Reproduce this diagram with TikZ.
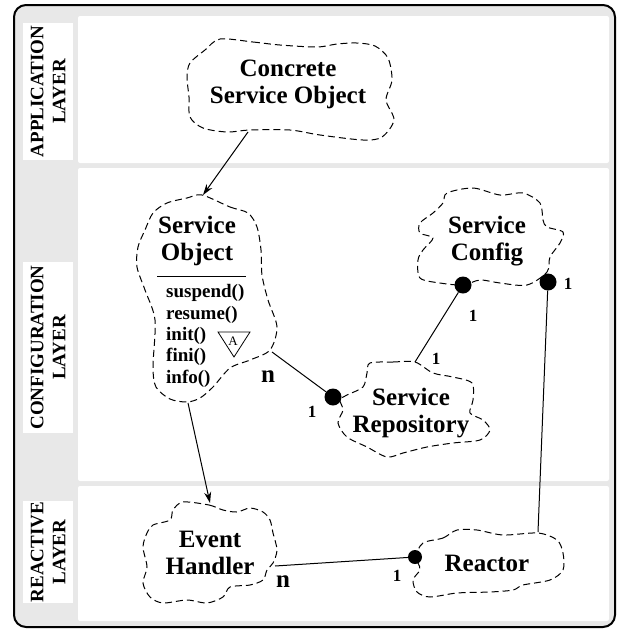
\documentclass[tikz,border=0pt]{standalone}
\usepackage{fontspec}
\setmainfont{Liberation Serif}
\usepackage{tikz}
\usetikzlibrary{positioning}
\usetikzlibrary{arrows.meta}

\begin{document}
\begin{tikzpicture}[x=1pt, y=-1pt,
        >={Stealth[length=11pt, width=7pt]},
        every node/.style = {font=\bfseries\fontsize{25}{27}\selectfont, align=center, inner sep=0pt},
        blob/.style = {draw, line width=1pt, dash pattern=on 7pt off 4pt},
        layer/.style = {fill=white, rotate=90, minimum height=50pt, font=\bfseries\fontsize{19}{22}\selectfont},
        dot/.style = {circle, fill=black, minimum size=17pt},
        mult/.style = {font=\bfseries\fontsize{17}{17}\selectfont}
        ]
        \useasboundingbox (0,0) rectangle (618,630);
        % frame and layers
        \draw[line width=2pt, fill=gray!18, rounded corners=12pt] (14,5) rectangle (615,627);
        \fill[white, rounded corners=2pt] (78,16) rectangle (609,163);
        \fill[white, rounded corners=2pt] (78,168) rectangle (609,481);
        \fill[white, rounded corners=2pt] (78,486) rectangle (609,621);
        \node[layer, minimum width=137pt] (app) at (48,91.5) {APPLICATION\\LAYER};
        \node[layer, minimum width=171pt] (conf) at (48,347.5) {CONFIGURATION\\LAYER};
        \node[layer, minimum width=102pt] (react) at (48,552) {REACTIVE\\LAYER};

        % blobs
        \draw[blob] plot[smooth cycle] coordinates {(220,39) (253,42) (280,45) (317,47) (337,44) (357,43) (375,46) (388,58) (392,80) (386,100) (394,120) (382,137) (363,140) (320,135) (290,130) (250,130) (227,132) (203,128) (190,117) (189,97) (187,77) (190,63) (205,50)};
        \draw[blob] plot[smooth cycle] coordinates {(202,195) (230,207) (248,213) (257,227) (261,250) (262,275) (268,300) (277,327) (270,350) (250,360) (230,368) (213,387) (200,398) (187,402) (170,399) (156,387) (153,367) (155,320) (145,290) (137,267) (138,247) (145,230) (153,213) (167,203) (187,198)};
        \draw[blob] plot[smooth cycle] coordinates {(447,193) (473,188) (500,195) (523,193) (540,203) (543,220) (547,227) (563,232) (560,243) (550,257) (547,272) (527,285) (500,283) (480,280) (463,285) (440,283) (420,278) (418,260) (423,250) (433,238) (420,233) (420,223) (433,213) (443,203)};
        \draw[blob] plot[smooth cycle] coordinates {(370,363) (393,362) (415,362) (433,373) (453,377) (472,383) (473,400) (470,413) (483,420) (490,430) (480,440) (453,443) (427,447) (403,453) (387,457) (367,447) (347,437) (338,423) (343,410) (340,400) (347,395) (363,387) (367,373)};
        \draw[blob] plot[smooth cycle] coordinates {(183,502) (209,505) (223,510) (237,512) (250,508) (263,512) (270,520) (273,533) (277,550) (273,563) (267,570) (263,580) (250,585) (230,587) (223,597) (207,603) (187,600) (163,603) (150,597) (143,583) (147,567) (143,547) (147,533) (153,525) (170,520) (173,510)};
        \draw[blob] plot[smooth cycle] coordinates {(423,543) (443,538) (457,530) (477,530) (503,535) (538,533) (557,540) (563,553) (563,570) (550,580) (523,585) (513,590) (490,592) (457,593) (430,597) (417,592) (413,580) (420,570) (418,563) (415,557)};

        % classes
        \node (cso) at (288,84) {Concrete\\Service Object};
        \node (so) at (197,241) {Service\\Object};
        \draw[line width=1pt] (157,276) -- (246,276);
        \node[anchor=west, align=left, font=\bfseries\fontsize{19}{21.3}\selectfont] (som) at (166,336) {suspend()\\resume()\\init()\\fini()\\info()};
        \draw[line width=0.8pt] (218,332) -- (250,332) -- (234,357) -- cycle;
        \node[font=\normalfont\fontsize{13}{13}\selectfont] (abs) at (233,341) {A};
        \node (sc) at (487,241) {Service\\Config};
        \node (sr) at (411,413) {Service\\Repository};
        \node (eh) at (210,553) {Event\\Handler};
        \node (re) at (487,563) {Reactor};

        % ends on the blob outlines
        \coordinate (cso-s) at (248,132);
        \coordinate (so-n) at (203,195);
        \coordinate (so-s) at (188,403);
        \coordinate (eh-n) at (210,503);
        \coordinate (so-e) at (272,352);
        \coordinate (sr-n) at (415,362);
        \coordinate (re-n) at (538,532);
        \coordinate (eh-e) at (275,566);
        \node[dot] (d1) at (333,397) {};
        \node[dot] (d2) at (463,285) {};
        \node[dot] (d3) at (548,282) {};
        \node[dot, minimum size=14pt] (d4) at (415,557) {};

        \draw[line width=1pt, ->] (cso-s) -- (so-n);
        \draw[line width=1pt, ->] (so-s) -- (eh-n);
        \draw[line width=1pt] (so-e) -- (d1);
        \draw[line width=1pt] (d2) -- (sr-n);
        \draw[line width=1pt] (d3) -- (re-n);
        \draw[line width=1pt] (eh-e) -- (d4);

        % multiplicities
        \node (n1) at (268,377) {n};
        \node (n2) at (283,582) {n};
        \node[mult] (m1) at (312,412) {1};
        \node[mult] (m2) at (473,316) {1};
        \node[mult] (m3) at (436,359) {1};
        \node[mult] (m4) at (568,284) {1};
        \node[mult] (m5) at (397,576) {1};
\end{tikzpicture}
\end{document}
